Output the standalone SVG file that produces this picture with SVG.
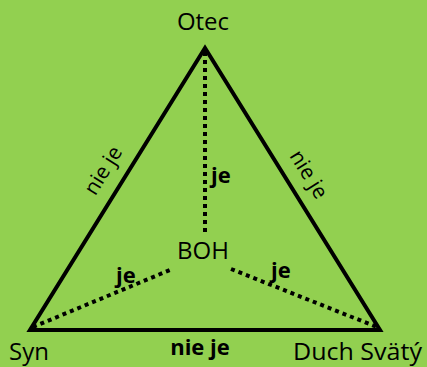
<svg xmlns="http://www.w3.org/2000/svg" width="427" height="367" viewBox="0 0 427 367">
<style>
.t{font-family:"Open Sans","Noto Sans",sans-serif;fill:#000}
.n{font-size:24px}
.l{font-size:21px}
.b{font-size:22px;font-weight:bold}
.edge{fill:none;stroke:#000;stroke-width:4;stroke-linejoin:miter;stroke-miterlimit:10}
.dot{fill:none;stroke:#000;stroke-width:4;stroke-dasharray:4 4}
</style>
<rect width="427" height="367" fill="#92D050"/>
<g id="connectors">
<path class="edge" d="M205,48 L30,330 L380,330 Z"/>
<line class="dot" x1="205" y1="52" x2="205" y2="232"/>
<line class="dot" x1="33" y1="327" x2="170" y2="270"/>
<line class="dot" x1="231" y1="269" x2="377" y2="327"/>
<text class="t l" transform="translate(104,171) rotate(-58.2)" text-anchor="middle" y="6">nie je</text>
<text class="t l" transform="translate(308,175) rotate(58.2)" text-anchor="middle" y="6">nie je</text>
<text class="t b" x="211" y="183">je</text>
<text class="t b" x="116" y="283">je</text>
<text class="t b" x="271" y="278">je</text>
<text class="t b" x="200" y="355" text-anchor="middle">nie je</text>
</g>
<g id="otec"><text class="t n" x="203" y="30" text-anchor="middle">Otec</text></g>
<g id="boh"><text class="t n" x="203" y="259" text-anchor="middle">BOH</text></g>
<g id="syn"><text class="t n" x="9" y="360">Syn</text></g>
<g id="duch"><text class="t n" x="293" y="360" textLength="129" lengthAdjust="spacingAndGlyphs">Duch Svätý</text></g>
</svg>
